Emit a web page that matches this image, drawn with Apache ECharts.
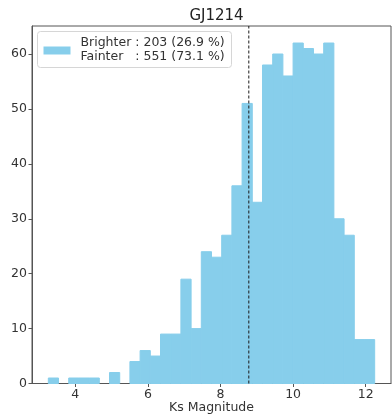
<!DOCTYPE html>
<html>
<head>
<meta charset="utf-8">
<script src="https://cdn.jsdelivr.net/npm/echarts@6/dist/echarts.min.js"></script>
<style>
html,body{margin:0;padding:0;background:#fff;}
#chart{width:392px;height:417px;}
</style>
</head>
<body>
<div id="chart"></div>
<script>
// ---- data ----
var title = 'GJ1214';
var xLabel = 'Ks Magnitude';
var binLo = 3.258;
var binHi = 12.247;
var counts = [1, 0, 1, 1, 1, 0, 2, 0, 4, 6, 5, 9, 9, 19, 10, 24, 23, 27, 36, 51,
              33, 58, 60, 56, 62, 61, 60, 62, 30, 27, 8, 8];
var targetMag = 8.78;
var xTicks = [4, 6, 8, 10, 12];
var yTicks = [0, 10, 20, 30, 40, 50, 60];
var legendLines = ['Brighter : 203 (26.9 %)', 'Fainter   : 551 (73.1 %)'];

// ---- build ----
var nb = counts.length;
var bw = (binHi - binLo) / nb;
var bins = counts.map(function (c, i) {
  return [binLo + i * bw, binLo + (i + 1) * bw, c];
});
var maxC = Math.max.apply(null, counts);
var xMin = binLo - 0.05 * (binHi - binLo);
var xMax = binHi + 0.05 * (binHi - binLo);
var yMax = maxC * 1.05;

var FONT = 'DejaVu Sans';
var chart = echarts.init(document.getElementById('chart'), null, {renderer: 'canvas'});
chart.setOption({
  animation: false,
  backgroundColor: '#fff',
  title: {
    text: title, left: 211.5, top: 4, textAlign: 'center',
    textStyle: {fontFamily: FONT, fontSize: 15, fontWeight: 'normal', color: '#222'}
  },
  grid: {left: 32, right: 1, top: 26, bottom: 33.5, outerBoundsMode: 'none', containLabel: false,
         show: true, borderColor: '#555', borderWidth: 1, backgroundColor: 'transparent'},
  xAxis: {
    type: 'value', min: xMin, max: xMax,
    name: xLabel, nameLocation: 'middle', nameGap: 18, nameMoveOverlap: false,
    nameTextStyle: {fontFamily: FONT, fontSize: 12.5, color: '#333'},
    axisLine: {show: true, onZero: false, lineStyle: {color: '#555'}},
    axisTick: {show: true, length: 3.5, customValues: xTicks, lineStyle: {color: '#555'}},
    axisLabel: {customValues: xTicks, fontFamily: FONT, fontSize: 12.5, color: '#333', margin: 5},
    splitLine: {show: false}
  },
  yAxis: {
    type: 'value', min: 0, max: yMax,
    axisLine: {show: true, lineStyle: {color: '#555'}},
    axisTick: {show: true, length: 3.5, customValues: yTicks, lineStyle: {color: '#555'}},
    axisLabel: {customValues: yTicks, fontFamily: FONT, fontSize: 12.5, color: '#333', margin: 5},
    splitLine: {show: false}
  },
  series: [
    {
      type: 'custom',
      data: bins,
      encode: {x: [0, 1], y: 2},
      renderItem: function (params, api) {
        var x0 = api.value(0), x1 = api.value(1), c = api.value(2);
        var p0 = api.coord([x0, c]);
        var p1 = api.coord([x1, 0]);
        return {
          type: 'rect',
          shape: {x: p0[0], y: p0[1], width: p1[0] - p0[0], height: p1[1] - p0[1]},
          style: {fill: '#87ceeb', stroke: c > 0 ? '#87ceeb' : null, lineWidth: 1}
        };
      },
      z: 2
    },
    {
      type: 'line',
      data: [[targetMag, 0], [targetMag, yMax]],
      symbol: 'none',
      lineStyle: {color: '#1a1a1a', width: 1, type: [3, 2]},
      z: 3
    }
  ],
  graphic: [
    {
      type: 'group', left: 37, top: 31, z: 10,
      children: [
        {type: 'rect', shape: {x: 0, y: 0, width: 194, height: 36, r: 3},
         style: {fill: 'rgba(255,255,255,0.8)', stroke: '#d6d6d6', lineWidth: 1}},
        {type: 'rect', shape: {x: 6, y: 15, width: 27, height: 8},
         style: {fill: '#87ceeb'}},
        {type: 'text', x: 43, y: 11,
         style: {text: legendLines[0], fontFamily: FONT, fontSize: 12.5, fill: '#333', verticalAlign: 'middle'}},
        {type: 'text', x: 43, y: 25,
         style: {text: legendLines[1], fontFamily: FONT, fontSize: 12.5, fill: '#333', verticalAlign: 'middle'}}
      ]
    }
  ]
});
</script>
</body>
</html>
